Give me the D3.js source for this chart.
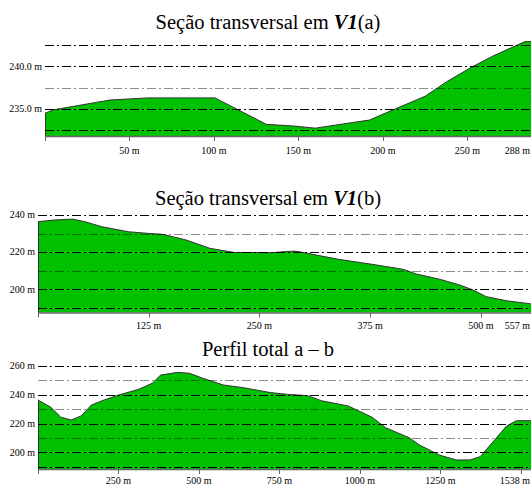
<!DOCTYPE html>
<html>
<head>
<meta charset="utf-8">
<script src="https://cdn.jsdelivr.net/npm/d3@7"></script>
<style>
  body { margin: 0; background: #fff; }
  svg text { font-family: 'Liberation Serif', 'DejaVu Serif', serif; }
</style>
</head>
<body>
<div id="chart"></div>
<script>
// Seção transversal em V1 (a)
var distA = [0, 5, 38.5, 61, 100.6, 131, 147, 160, 176.5, 192, 206, 225, 237.7, 251.5, 265, 284, 288];
var elevA = [234.5, 234.9, 236.05, 236.3, 236.3, 233.2, 233.0, 232.75, 233.25, 233.7, 234.9, 236.5, 238.2, 239.8, 241.2, 242.9, 242.9];
var gridA = [232.5, 235, 237.5, 240, 242.5];
var labelsA = [235, 240];
var ticksA = [50, 100, 150, 200, 250];

// Seção transversal em V1 (b)
var distB = [0, 18, 39, 53, 72, 102, 125, 141, 167, 194, 221, 263, 278, 290, 301, 339, 377, 412, 427, 454, 476, 491, 506, 529, 557];
var elevB = [236.4, 237.3, 237.8, 236.4, 233.7, 231.0, 230.1, 229.6, 226.6, 222.1, 219.9, 219.7, 220.3, 220.6, 219.7, 216.2, 213.5, 210.8, 208.3, 205.4, 202.4, 199.7, 196.1, 193.9, 192.2];
var gridB = [190, 200, 210, 220, 230, 240];
var labelsB = [200, 220, 240];
var ticksB = [125, 250, 375, 500];

// Perfil total a - b
var distT = [0, 40, 71, 103, 134, 166, 197, 250, 313, 355, 381, 434, 471, 513, 576, 639, 723, 775, 838, 880, 964, 1038, 1080, 1153, 1185, 1248, 1300, 1342, 1374, 1456, 1487, 1538];
var elevT = [236.4, 231.3, 224.4, 222.5, 225.3, 232.9, 235.7, 239.8, 243.8, 248.0, 253.7, 255.6, 254.9, 251.4, 246.8, 244.9, 241.5, 240.3, 239.4, 235.9, 232.2, 224.4, 217.1, 210.2, 205.1, 198.0, 194.7, 194.7, 197.0, 218.3, 222.0, 222.0];
var gridT = [190, 200, 210, 220, 230, 240, 250, 260];
var labelsT = [200, 220, 240, 260];
var ticksT = [250, 500, 750, 1000, 1250, 1500];

var width = 531, height = 484;
var serif = "'Liberation Serif', 'Times New Roman', serif";

var svg = d3.select('#chart').append('svg')
            .attr('width', width)
            .attr('height', height);

function drawProfile(g, p) {
  var x = d3.scaleLinear().domain([0, p.dist[p.dist.length - 1]]).range([p.left, p.right]);
  var y = d3.scaleLinear().domain(p.yDomain).range([p.bottom, p.top]);
  var points = p.dist.map(function(d, i) { return [d, p.elev[i]]; });

  // title, with V1 in bold italic
  var title = g.append('text')
               .attr('x', 268)
               .attr('y', p.titleY)
               .attr('text-anchor', 'middle')
               .attr('font-family', serif)
               .attr('font-size', '20.5px')
               .attr('fill', '#000');
  title.append('tspan').text(p.title[0]);
  if (p.title.length > 1) {
    title.append('tspan').attr('font-weight', 'bold').attr('font-style', 'italic').text(p.title[1]);
    title.append('tspan').text(p.title[2]);
  }

  // terrain
  var area = d3.area()
               .x(function(d) { return x(d[0]); })
               .y0(p.bottom)
               .y1(function(d) { return y(d[1]); });
  var line = d3.line()
               .x(function(d) { return x(d[0]); })
               .y(function(d) { return y(d[1]); });

  g.append('path')
   .attr('d', area(points))
   .attr('fill', '#00c000');
  g.append('path')
   .attr('d', line(points))
   .attr('fill', 'none')
   .attr('stroke', '#333')
   .attr('stroke-width', 1);
  g.append('line')
   .attr('x1', x(0) + 0.5).attr('x2', x(0) + 0.5)
   .attr('y1', y(p.elev[0])).attr('y2', p.bottom)
   .attr('stroke', '#333')
   .attr('stroke-width', 1);

  // dash-dot grid lines, drawn over the terrain; minor ones are half-transparent
  g.selectAll('line.grid')
   .data(p.grid)
   .enter()
   .append('line')
   .attr('class', 'grid')
   .attr('x1', p.left)
   .attr('x2', width)
   .attr('y1', function(d) { return Math.round(y(d)) + 0.5; })
   .attr('y2', function(d) { return Math.round(y(d)) + 0.5; })
   .attr('stroke', '#000')
   .attr('stroke-opacity', function(d, i) {
     var major = p.labels.indexOf(d) >= 0 || i === 0 || i === p.grid.length - 1;
     return major ? 1 : 0.45;
   })
   .attr('stroke-width', 1)
   .attr('stroke-dasharray', '9,3,2,3');

  // y labels
  g.selectAll('text.ylab')
   .data(p.labels)
   .enter()
   .append('text')
   .attr('class', 'ylab')
   .attr('x', p.left - 3)
   .attr('y', function(d) { return y(d); })
   .attr('dy', '0.32em')
   .attr('text-anchor', 'end')
   .attr('font-family', serif)
   .attr('font-size', '10px')
   .text(function(d) { return d3.format(p.yFormat)(d) + ' m'; });

  // bottom axis
  g.append('line')
   .attr('x1', p.left).attr('x2', width)
   .attr('y1', p.bottom + 0.5).attr('y2', p.bottom + 0.5)
   .attr('stroke', '#666')
   .attr('stroke-width', 1.5);

  var ticks = [0].concat(p.ticks);
  g.selectAll('line.xtick')
   .data(ticks)
   .enter()
   .append('line')
   .attr('class', 'xtick')
   .attr('x1', function(d) { return Math.round(x(d)) + 0.5; })
   .attr('x2', function(d) { return Math.round(x(d)) + 0.5; })
   .attr('y1', p.bottom)
   .attr('y2', p.bottom + 5)
   .attr('stroke', '#666');

  var maxDist = p.dist[p.dist.length - 1];
  // the last regular tick gives its label up to the end label when they collide
  var labelTicks = p.ticks.filter(function(d) { return width - x(d) > 40; });
  g.selectAll('text.xlab')
   .data(labelTicks)
   .enter()
   .append('text')
   .attr('class', 'xlab')
   .attr('x', function(d) { return x(d); })
   .attr('y', p.labelY)
   .attr('text-anchor', 'middle')
   .attr('font-family', serif)
   .attr('font-size', '10px')
   .text(function(d) { return d + ' m'; });

  g.append('text')
   .attr('x', width - 1)
   .attr('y', p.labelY)
   .attr('text-anchor', 'end')
   .attr('font-family', serif)
   .attr('font-size', '10px')
   .text(maxDist + ' m');
}

drawProfile(svg.append('g'), {
  title: ['Seção transversal em ', 'V1', '(a)'],
  titleY: 29,
  dist: distA, elev: elevA,
  grid: gridA, labels: labelsA, ticks: ticksA,
  yFormat: '.1f',
  yDomain: [231.83, 242.5],
  left: 45, right: 531.7, top: 45, bottom: 136,
  labelY: 154
});

drawProfile(svg.append('g'), {
  title: ['Seção transversal em ', 'V1', '(b)'],
  titleY: 205,
  dist: distB, elev: elevB,
  grid: gridB, labels: labelsB, ticks: ticksB,
  yFormat: 'd',
  yDomain: [187.6, 240],
  left: 38, right: 531.5, top: 215, bottom: 312.5,
  labelY: 329
});

drawProfile(svg.append('g'), {
  title: ['Perfil total a – b'],
  titleY: 355.5,
  dist: distT, elev: elevT,
  grid: gridT, labels: labelsT, ticks: ticksT,
  yFormat: 'd',
  yDomain: [188.4, 260],
  left: 38, right: 533, top: 366, bottom: 469,
  labelY: 484
});
</script>
</body>
</html>
